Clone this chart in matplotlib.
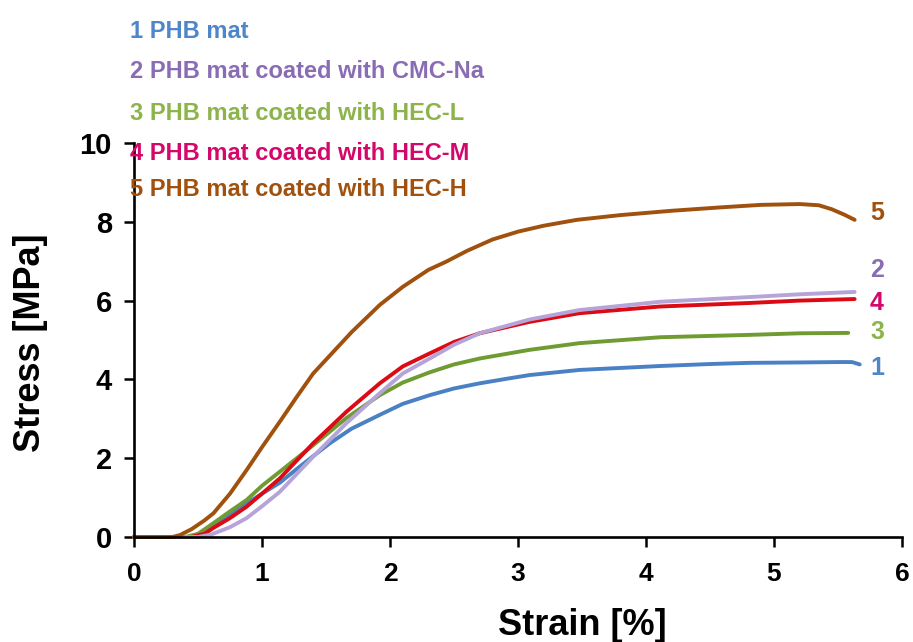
import matplotlib
matplotlib.use("Agg")
import matplotlib.pyplot as plt
from matplotlib import font_manager

# strain [%] / stress [MPa]
strain_1 = [0, 0.45, 0.55, 0.62, 0.75, 0.88, 1.0, 1.14, 1.3, 1.53, 1.7, 1.92, 2.1, 2.31, 2.5,
            2.7, 2.9, 3.09, 3.48, 4.11, 4.5, 4.81, 5.2, 5.5, 5.61, 5.67]
stress_1 = [0, 0, 0.1, 0.25, 0.55, 0.85, 1.1, 1.38, 1.8, 2.38, 2.75, 3.10, 3.38, 3.60, 3.77,
            3.90, 4.01, 4.11, 4.24, 4.34, 4.39, 4.42, 4.43, 4.44, 4.44, 4.38]

strain_2 = [0, 0.5, 0.6, 0.75, 0.88, 1.0, 1.14, 1.4, 1.66, 1.92, 2.1, 2.31, 2.5, 2.7, 3.09,
            3.48, 4.11, 4.81, 5.2, 5.63]
stress_2 = [0, 0, 0.06, 0.25, 0.48, 0.78, 1.15, 2.04, 2.89, 3.65, 4.15, 4.53, 4.88, 5.17, 5.52,
            5.76, 5.97, 6.09, 6.16, 6.22]

strain_3 = [0, 0.4, 0.5, 0.62, 0.75, 0.88, 1.0, 1.14, 1.4, 1.66, 1.92, 2.1, 2.31, 2.5, 2.7,
            3.09, 3.48, 4.11, 4.81, 5.2, 5.58]
stress_3 = [0, 0, 0.08, 0.35, 0.65, 0.94, 1.3, 1.66, 2.33, 3.02, 3.60, 3.92, 4.18, 4.38, 4.53,
            4.75, 4.92, 5.07, 5.13, 5.17, 5.18]

strain_4 = [0, 0.45, 0.55, 0.62, 0.75, 0.88, 1.0, 1.14, 1.4, 1.66, 1.92, 2.1, 2.31, 2.5, 2.7,
            3.09, 3.48, 4.11, 4.81, 5.2, 5.63]
stress_4 = [0, 0, 0.08, 0.23, 0.48, 0.77, 1.1, 1.49, 2.38, 3.18, 3.90, 4.33, 4.66, 4.95, 5.17,
            5.46, 5.68, 5.85, 5.94, 6.0, 6.04]

strain_5 = [0, 0.3, 0.36, 0.45, 0.55, 0.62, 0.75, 0.88, 1.0, 1.14, 1.27, 1.4, 1.5, 1.7, 1.92,
            2.1, 2.3, 2.44, 2.6, 2.8, 3.0, 3.2, 3.46, 3.8, 4.2, 4.6, 4.9, 5.2, 5.35, 5.45,
            5.55, 5.63]
stress_5 = [0, 0, 0.05, 0.2, 0.42, 0.6, 1.1, 1.70, 2.28, 2.93, 3.55, 4.15, 4.5, 5.2, 5.89,
            6.35, 6.78, 6.99, 7.26, 7.55, 7.75, 7.9, 8.05, 8.17, 8.28, 8.37, 8.43, 8.45, 8.42,
            8.32, 8.18, 8.05]

labels = [
    "1 PHB mat",
    "2 PHB mat coated with CMC-Na",
    "3 PHB mat coated with HEC-L",
    "4 PHB mat coated with HEC-M",
    "5 PHB mat coated with HEC-H",
]
end_labels = ["1", "2", "3", "4", "5"]
x_ticks = [0, 1, 2, 3, 4, 5, 6]
y_ticks = [0, 2, 4, 6, 8, 10]

line_colors = ["#4a80c4", "#b6a4d8", "#6f9b32", "#dc0a14", "#a0510e"]
text_colors = ["#4f86c8", "#8a6cb4", "#8cb44a", "#d4086a", "#a0510e"]

# narrow bold font if there is one, else plain Liberation Sans
try:
    font_manager.findfont(font_manager.FontProperties(family="Liberation Sans Narrow", weight="bold"),
                          fallback_to_default=False)
    legend_family, legend_size = "Liberation Sans Narrow", 20
except ValueError:
    legend_family, legend_size = "Liberation Sans", 17

plt.rcParams["font.family"] = ["Liberation Sans", "DejaVu Sans"]

fig = plt.figure(figsize=(9.13, 6.42), dpi=100)
ax = fig.add_axes([134 / 913, 1 - 537 / 642, 768 / 913, 394 / 642])

series = [(strain_1, stress_1), (strain_3, stress_3), (strain_4, stress_4),
          (strain_2, stress_2), (strain_5, stress_5)]
order = [0, 2, 3, 1, 4]
for (sx, sy), i in zip(series, order):
    ax.plot(sx, sy, color=line_colors[i], lw=2.8, solid_capstyle="round", clip_on=False)

ax.set_xlim(0, 6)
ax.set_ylim(0, 10)
ax.set_xticks(x_ticks)
ax.set_yticks(y_ticks)
for s in ["top", "right"]:
    ax.spines[s].set_visible(False)
for s in ["left", "bottom"]:
    ax.spines[s].set_linewidth(1.9)
ax.tick_params(axis="both", direction="out", length=7, width=1.8)
ax.tick_params(axis="y", pad=9, labelsize=21)
ax.tick_params(axis="x", pad=11, labelsize=19)
for t in ax.get_xticklabels() + ax.get_yticklabels():
    t.set_fontweight("bold")

fig.text(582 / 913, 1 - 635 / 642, "Strain [%]", ha="center", va="baseline",
         fontsize=26, fontweight="bold")
fig.text(30 / 913, 1 - 343 / 642, "Stress [MPa]", ha="center", va="center",
         rotation=90, fontsize=26, fontweight="bold")

legend_y = [32, 72, 113, 154, 189]
for lab, yy, c in zip(labels, legend_y, text_colors):
    fig.text(130 / 913, 1 - yy / 642, lab, ha="left", va="center", color=c,
             fontsize=legend_size, fontweight="bold", family=legend_family)

end_y = [368, 270, 332, 303, 213]
for lab, yy, c in zip(end_labels, end_y, text_colors):
    fig.text(877 / 913, 1 - yy / 642, lab, ha="center", va="center", color=c,
             fontsize=legend_size + 1, fontweight="bold", family=legend_family)

fig.savefig("out.png", dpi=100)
